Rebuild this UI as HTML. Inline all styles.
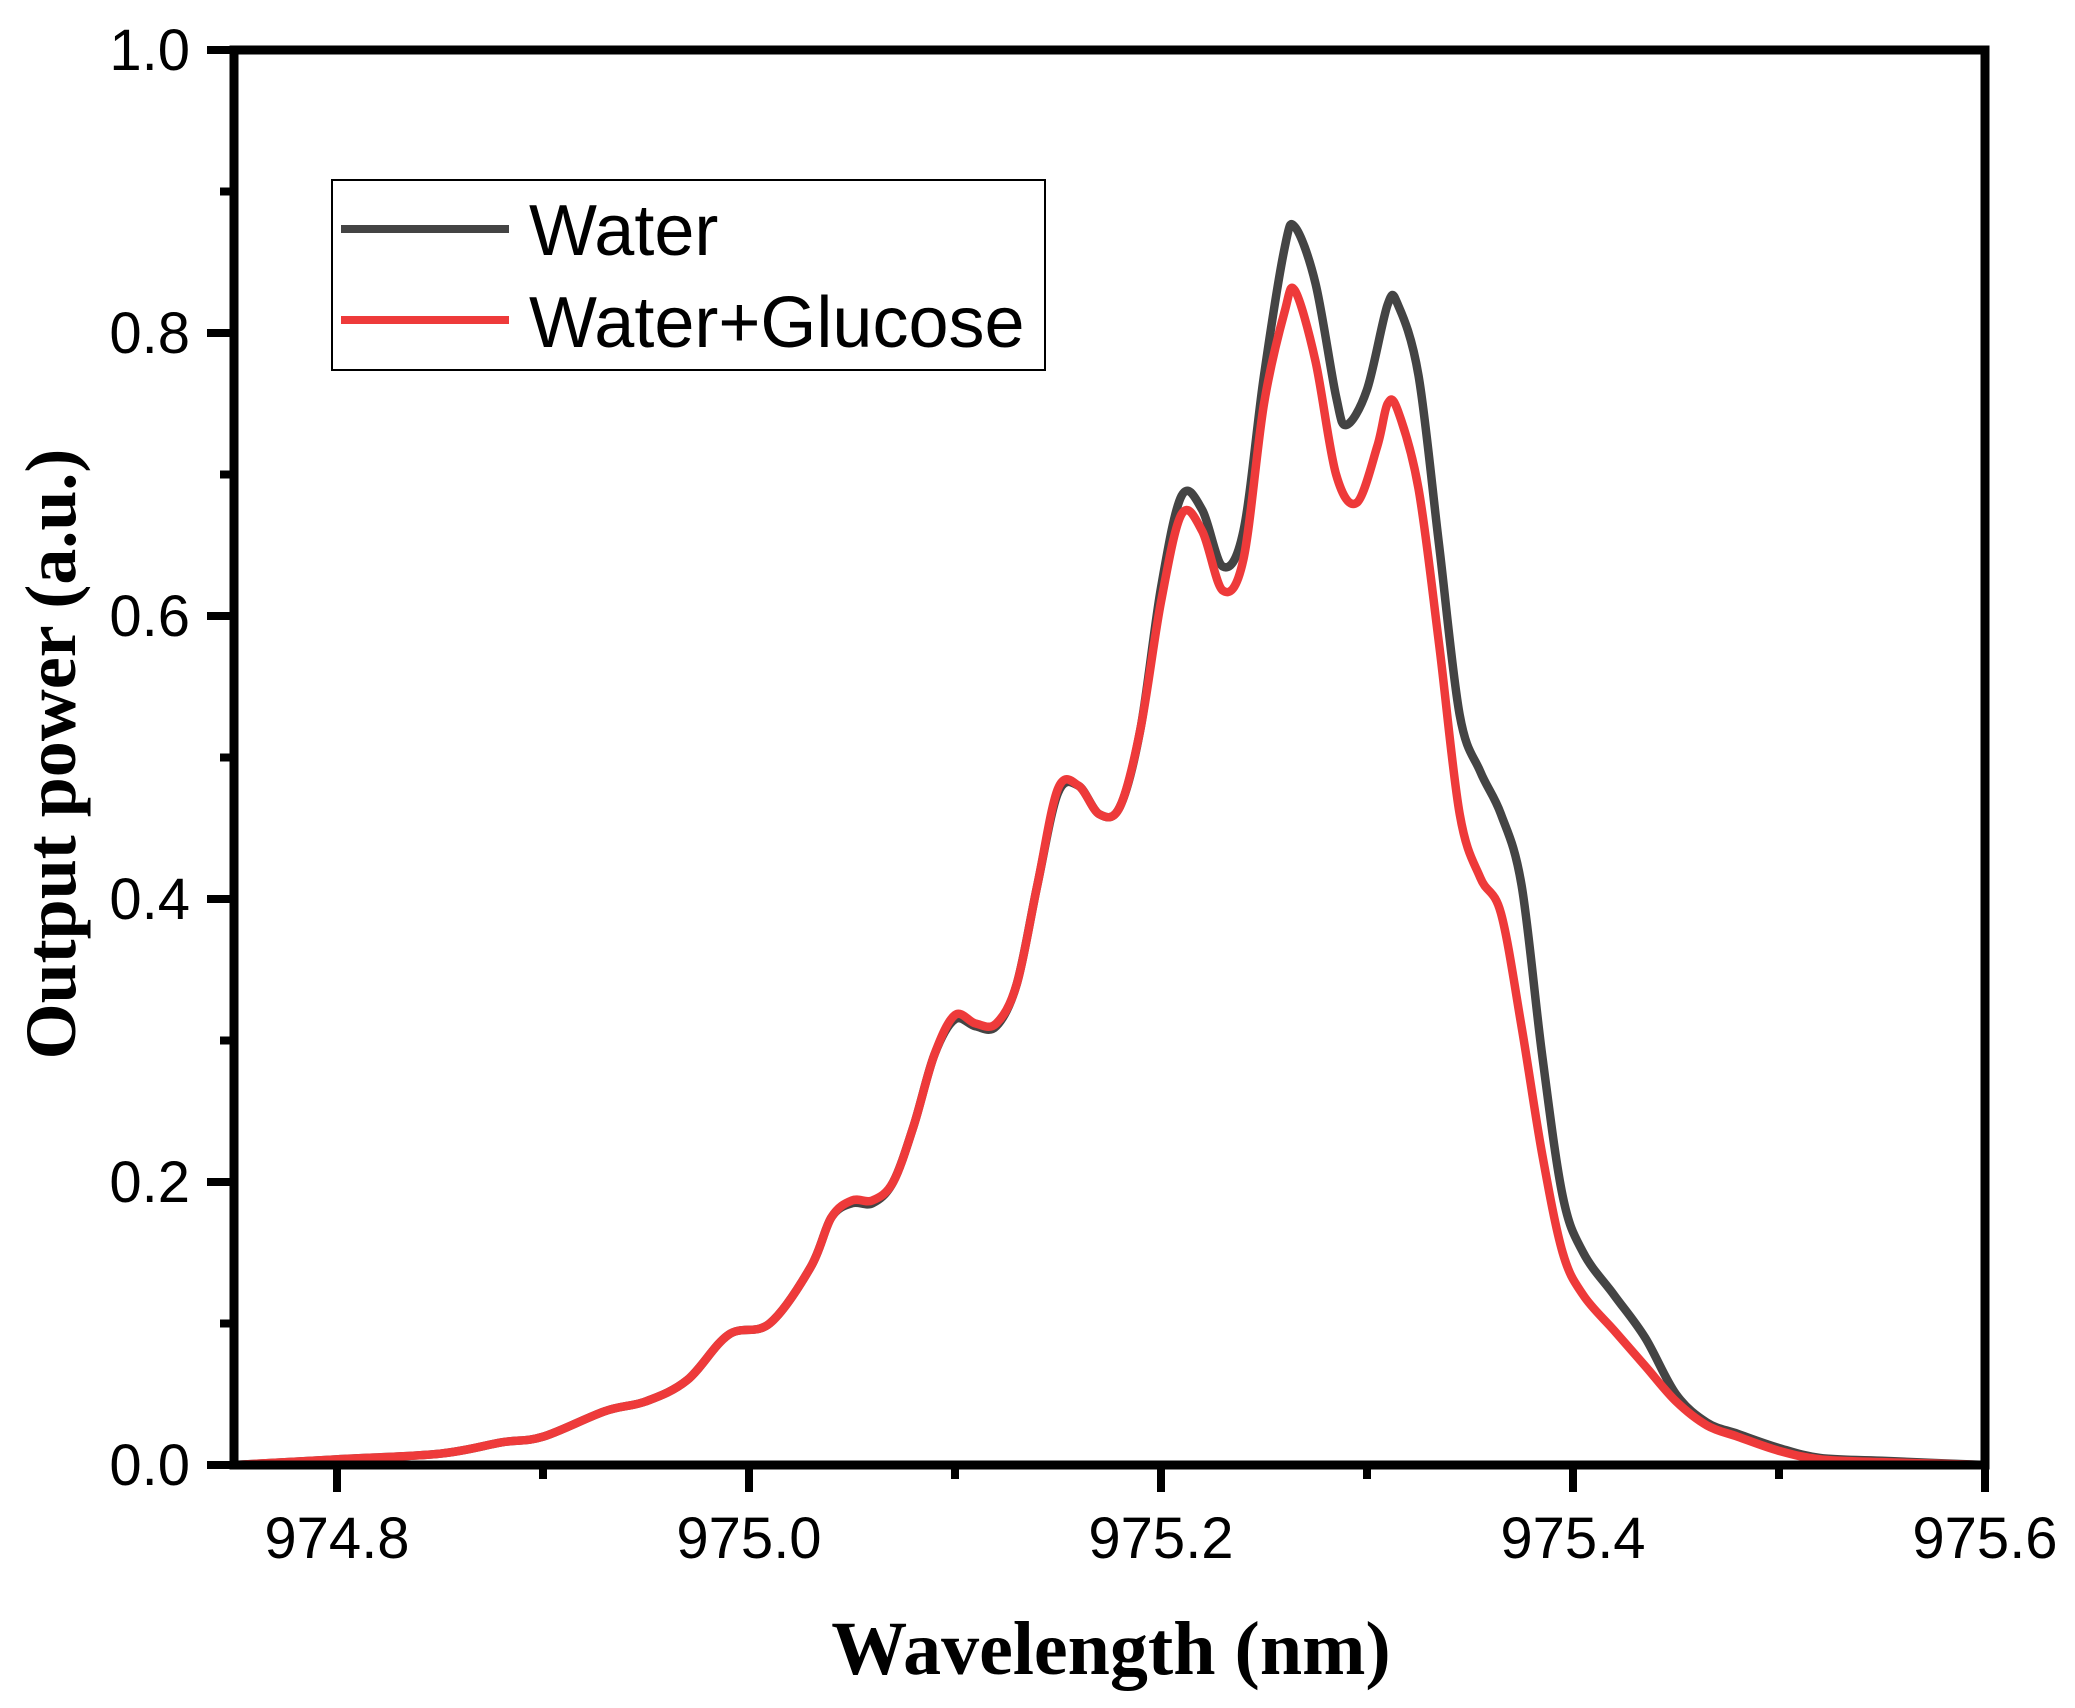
<!DOCTYPE html>
<html><head><meta charset="utf-8"><style>
html,body{margin:0;padding:0;background:#fff;}
svg{display:block;}
text{font-family:"Liberation Sans",sans-serif;}
text.serif{font-family:"Liberation Serif",serif;font-weight:bold;}
</style></head><body>
<svg id="chart" width="2075" height="1708" viewBox="0 0 2075 1708" xmlns="http://www.w3.org/2000/svg">
<g id="plot"></g>
<g id="axes"></g>
<text class="serif" x="1111" y="1674" text-anchor="middle" font-size="76">Wavelength (nm)</text>
<text class="serif" transform="translate(75,754) rotate(-90)" text-anchor="middle" font-size="72">Output power (a.u.)</text>
<g>
<rect x="332" y="180" width="713" height="190" fill="#fff" stroke="#000" stroke-width="2"/>
<line x1="341" y1="229" x2="509" y2="229" stroke="#444" stroke-width="8"/>
<text x="529" y="255" font-size="72">Water</text>
<line x1="341" y1="320" x2="509" y2="320" stroke="#ee3a3a" stroke-width="8"/>
<text x="529" y="347" font-size="72">Water+Glucose</text>
</g>
</svg>
<script>
const waterX=[974.75,974.8,974.85,974.88,974.9,974.93,974.95,974.97,974.99,975.01,975.03,975.04,975.05,975.06,975.07,975.08,975.09,975.10,975.11,975.12,975.13,975.14,975.15,975.16,975.17,975.18,975.19,975.20,975.21,975.22,975.23,975.24,975.25,975.26,975.265,975.275,975.285,975.29,975.30,975.31,975.315,975.325,975.335,975.345,975.355,975.365,975.375,975.385,975.395,975.405,975.42,975.435,975.45,975.465,975.48,975.5,975.52,975.55,975.6];
const waterY=[0.0,0.004,0.008,0.016,0.02,0.038,0.045,0.06,0.092,0.1,0.14,0.175,0.185,0.185,0.2,0.24,0.29,0.315,0.31,0.31,0.34,0.41,0.475,0.48,0.46,0.465,0.52,0.62,0.685,0.675,0.635,0.66,0.77,0.86,0.875,0.835,0.755,0.735,0.76,0.82,0.82,0.77,0.65,0.53,0.49,0.46,0.41,0.29,0.19,0.15,0.12,0.09,0.05,0.03,0.022,0.012,0.005,0.003,0.0];
const glucoseX=[974.75,974.8,974.85,974.88,974.9,974.93,974.95,974.97,974.99,975.01,975.03,975.04,975.05,975.06,975.07,975.08,975.09,975.10,975.11,975.12,975.13,975.14,975.15,975.16,975.17,975.18,975.19,975.20,975.21,975.22,975.23,975.24,975.25,975.26,975.265,975.275,975.285,975.295,975.305,975.31,975.315,975.325,975.335,975.345,975.355,975.365,975.375,975.385,975.395,975.405,975.42,975.435,975.45,975.465,975.48,975.5,975.52,975.55,975.6];
const glucoseY=[0.0,0.004,0.008,0.016,0.02,0.038,0.045,0.06,0.092,0.1,0.14,0.175,0.187,0.187,0.2,0.24,0.29,0.318,0.312,0.312,0.34,0.41,0.478,0.48,0.46,0.465,0.52,0.61,0.672,0.66,0.618,0.64,0.75,0.815,0.83,0.78,0.7,0.68,0.72,0.75,0.745,0.69,0.58,0.46,0.415,0.39,0.31,0.22,0.15,0.12,0.095,0.07,0.045,0.028,0.02,0.01,0.004,0.002,0.0];
const xMajor=[974.8,975.0,975.2,975.4,975.6];
const xMajorLabels=["974.8","975.0","975.2","975.4","975.6"];
const yMajor=[0,0.2,0.4,0.6,0.8,1.0];
const yMajorLabels=["0.0","0.2","0.4","0.6","0.8","1.0"];

const NS="http://www.w3.org/2000/svg";
function sx(v){return 337+(v-974.8)*2060;}
function sy(v){return 1465-v*1415;}
function mk(tag,attrs,parent){const e=document.createElementNS(NS,tag);for(const k in attrs)e.setAttribute(k,attrs[k]);parent.appendChild(e);return e;}
function smooth(xs,ys){
  const p=xs.map((x,i)=>[sx(x),sy(ys[i])]);
  let d="M"+p[0][0]+","+p[0][1];
  for(let i=0;i<p.length-1;i++){
    const p0=p[Math.max(0,i-1)],p1=p[i],p2=p[i+1],p3=p[Math.min(p.length-1,i+2)];
    const c1=[p1[0]+(p2[0]-p0[0])/6,p1[1]+(p2[1]-p0[1])/6];
    const c2=[p2[0]-(p3[0]-p1[0])/6,p2[1]-(p3[1]-p1[1])/6];
    d+=" C"+c1[0]+","+c1[1]+" "+c2[0]+","+c2[1]+" "+p2[0]+","+p2[1];
  }
  return d;
}
const plot=document.getElementById('plot');
const w=mk('path',{d:smooth(waterX,waterY),fill:'none',stroke:'#444','stroke-width':8.5,'stroke-linejoin':'round'},plot);


const g=mk('path',{d:smooth(glucoseX,glucoseY),fill:'none',stroke:'#ee3a3a','stroke-width':8.5,'stroke-linejoin':'round'},plot);



const axes=document.getElementById('axes');
const frame=mk('rect',{x:234,y:50,width:1751,height:1415,fill:'none',stroke:'#000','stroke-width':9},axes);


for(let v=974.8;v<975.65;v+=0.1){
  const major=Math.abs(((v-974.8)/0.2)-Math.round((v-974.8)/0.2))<0.01;
  const t=mk('line',{x1:sx(v),x2:sx(v),y1:1465,y2:1465+(major?27:14),stroke:'#000','stroke-width':8},axes);
  
  
}
xMajor.forEach((v,i)=>{
  const t=mk('text',{x:sx(v),y:1558,'text-anchor':'middle','font-size':58},axes);
  t.textContent=xMajorLabels[i];
  
  
});
for(let k=0;k<=10;k++){
  const v=k/10;const major=k%2===0;
  const t=mk('line',{x1:234,x2:234-(major?27:14),y1:sy(v),y2:sy(v),stroke:'#000','stroke-width':8},axes);
  
  
}
yMajor.forEach((v,i)=>{
  const t=mk('text',{x:190,y:sy(v)+20,'text-anchor':'end','font-size':58},axes);
  t.textContent=yMajorLabels[i];
  
  
});
</script>
</body></html>
